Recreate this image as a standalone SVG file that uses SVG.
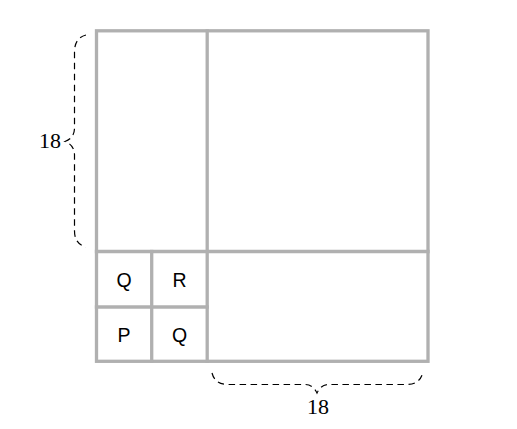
<svg xmlns="http://www.w3.org/2000/svg" width="517" height="429" viewBox="0 0 517 429">
<style>
.grid{fill:none;stroke:#b0b0b0;stroke-width:3.3;stroke-linecap:square}
.brace{fill:none;stroke:#000;stroke-width:1.2;stroke-dasharray:6.5 4.5}
.cell{font-family:"Liberation Sans","DejaVu Sans",sans-serif;font-size:19.5px;fill:#000;text-anchor:middle}
.num{font-family:"Liberation Serif","DejaVu Serif",serif;font-size:22px;fill:#000}
</style>
<rect width="517" height="429" fill="#fff"/>
<g id="grid">
<rect class="grid" x="96.5" y="30.8" width="331.5" height="330.5"/>
<line class="grid" x1="207.2" y1="30.8" x2="207.2" y2="361.3"/>
<line class="grid" x1="96.5" y1="251.5" x2="428" y2="251.5"/>
<line class="grid" x1="151.7" y1="251.5" x2="151.7" y2="361.3"/>
<line class="grid" x1="96.5" y1="307" x2="207.2" y2="307"/>
</g>
<g id="cell-q1"><text class="cell" x="124" y="286.7">Q</text></g>
<g id="cell-r"><text class="cell" x="179.5" y="286.7">R</text></g>
<g id="cell-p"><text class="cell" x="124" y="342.3">P</text></g>
<g id="cell-q2"><text class="cell" x="179.5" y="342.3">Q</text></g>
<g id="connectors">
<path class="brace" d="M 86,35 Q 74.5,38 74.5,52 L 74.5,128 Q 74.5,138 65,141.5 Q 74.5,145 74.5,155 L 74.5,231 Q 74.5,244 86,247"/>
<path class="brace" d="M 212,373 Q 215,384.5 228,384.5 L 305,384.5 Q 313,384.5 317,393 Q 321,384.5 329,384.5 L 407,384.5 Q 420,384.5 423,372"/>
</g>
<g id="label-left"><text class="num" x="61" y="148" text-anchor="end">18</text></g>
<g id="label-bottom"><text class="num" x="318" y="413.5" text-anchor="middle">18</text></g>
</svg>
